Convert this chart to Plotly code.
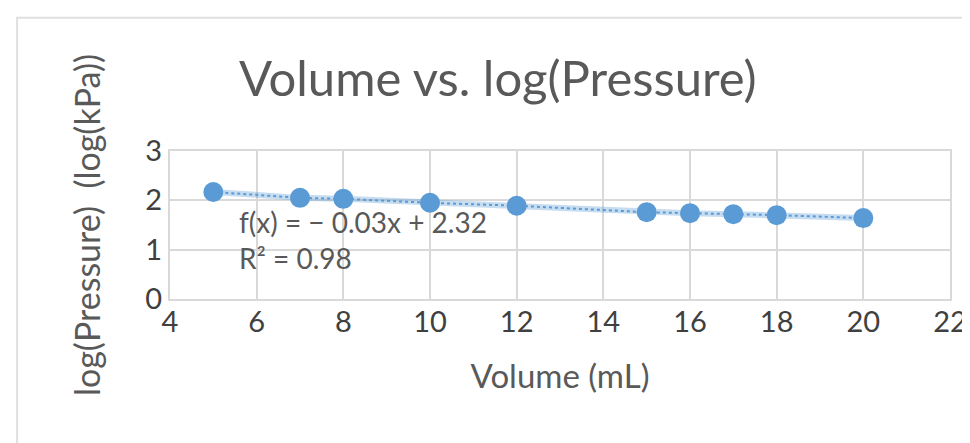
import plotly.graph_objects as go

volume = [5, 7, 8, 10, 12, 15, 16, 17, 18, 20]
log_pressure = [2.17, 2.05, 2.03, 1.95, 1.89, 1.76, 1.74, 1.72, 1.70, 1.64]
title = "Volume vs. log(Pressure)"
x_title = "Volume (mL)"
y_title = "log(Pressure)  (log(kPa))"
eq_text = "f(x) = − 0.03x + 2.32<br>R² = 0.98"

FONT = "Lato, Carlito, sans-serif"
BLUE = "#5b9bd5"

fig = go.Figure()
fig.add_trace(go.Scatter(x=volume, y=log_pressure, mode="lines",
                         line=dict(color="rgba(91,155,213,0.35)", width=6),
                         hoverinfo="skip", showlegend=False))
fig.add_trace(go.Scatter(x=volume, y=log_pressure, mode="lines+markers",
                         line=dict(color=BLUE, width=2, dash="dot"),
                         marker=dict(color=BLUE, size=20),
                         showlegend=False))

fig.update_layout(
    width=970, height=443,
    margin=dict(l=162, r=28, t=143, b=152),
    paper_bgcolor="white", plot_bgcolor="white",
    font=dict(family=FONT, color="#595959"),
    title=dict(text=title, x=0.505, xanchor="center", y=0.84, yanchor="middle",
               font=dict(size=49, color="#595959", family=FONT)),
    xaxis=dict(range=[4, 22], dtick=2, showgrid=True, gridcolor="#d9d9d9", gridwidth=2,
               showline=True, linecolor="#d9d9d9", linewidth=2, mirror=True,
               zeroline=False, ticks="", ticklabelstandoff=-4,
               tickfont=dict(size=29, color="#404040"),
               title=dict(text=x_title, font=dict(size=33, color="#595959"), standoff=28)),
    yaxis=dict(range=[0, 3], dtick=1, showgrid=True, gridcolor="#d9d9d9", gridwidth=2,
               showline=True, linecolor="#d9d9d9", linewidth=2, mirror=True,
               zeroline=False, ticks="", tickfont=dict(size=29, color="#404040"),
               title=dict(text=y_title, font=dict(size=34, color="#595959"), standoff=34)),
    annotations=[dict(text=eq_text, xref="x", yref="y", x=5.55, y=1.95,
                      xanchor="left", yanchor="top", showarrow=False, align="left",
                      font=dict(size=28, color="#595959", family=FONT))],
    shapes=[dict(type="rect", xref="paper", yref="paper", x0=-0.196, y0=-1.2,
                 x1=1.1, y1=1.90, line=dict(color="#e0e0e0", width=2), layer="below")],
)

fig.write_html("out.html")
